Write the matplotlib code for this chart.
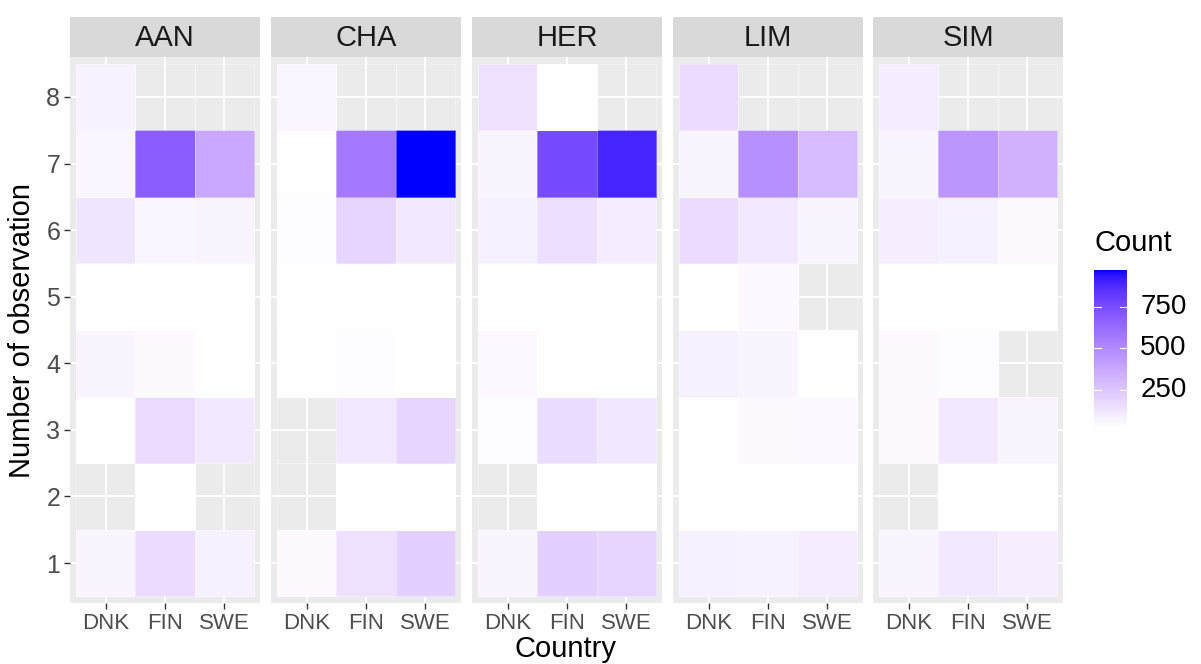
import numpy as np
import matplotlib
matplotlib.use("Agg")
import matplotlib.pyplot as plt
from matplotlib.colors import ListedColormap, Normalize

plt.rcParams['font.family'] = ['Liberation Sans', 'DejaVu Sans']

# data: rows are observation number 1..8, columns DNK, FIN, SWE (None = no tile)
countries = ["DNK", "FIN", "SWE"]
observations = [1, 2, 3, 4, 5, 6, 7, 8]
species = ["AAN", "CHA", "HER", "LIM", "SIM"]

aan = [[63, 167, 82], [None, 21, None], [24, 162, 115], [68, 44, 22],
       [25, 25, 22], [125, 58, 68], [58, 685, 372], [72, None, None]]
cha = [[39, 144, 210], [None, 21, 21], [None, 115, 191], [23, 34, 21],
       [24, 24, 23], [34, 191, 115], [28, 571, 970], [58, None, None]]
her = [[68, 210, 191], [None, 21, 21], [34, 158, 120], [49, 30, 24],
       [24, 24, 24], [82, 153, 91], [68, 761, 895], [144, 20, None]]
lim = [[77, 72, 96], [24, 24, 23], [28, 44, 49], [82, 68, 21],
       [22, 49, None], [162, 115, 63], [63, 476, 296], [162, None, None]]
sim = [[63, 115, 87], [None, 21, 21], [39, 115, 63], [39, 34, None],
       [24, 25, 24], [87, 77, 44], [68, 448, 334], [96, None, None]]
panels = [aan, cha, her, lim, sim]

legend_ticks = [250, 500, 750]


# ggplot-like white -> blue gradient, interpolated in CIELAB
def srgb_to_lab(rgb):
    c = np.asarray(rgb, float)
    lin = np.where(c <= 0.04045, c / 12.92, ((c + 0.055) / 1.055) ** 2.4)
    M = np.array([[0.4124, 0.3576, 0.1805],
                  [0.2126, 0.7152, 0.0722],
                  [0.0193, 0.1192, 0.9505]])
    xyz = M @ lin / np.array([0.95047, 1.0, 1.08883])
    f = np.where(xyz > 0.008856, np.cbrt(xyz), 7.787 * xyz + 16 / 116)
    return np.array([116 * f[1] - 16, 500 * (f[0] - f[1]), 200 * (f[1] - f[2])])


def lab_to_srgb(lab):
    L, a, b = lab
    fy = (L + 16) / 116
    fx = fy + a / 500
    fz = fy - b / 200
    f = np.array([fx, fy, fz])
    xyz = np.where(f ** 3 > 0.008856, f ** 3, (f - 16 / 116) / 7.787)
    xyz = xyz * np.array([0.95047, 1.0, 1.08883])
    Minv = np.array([[3.2406, -1.5372, -0.4986],
                     [-0.9689, 1.8758, 0.0415],
                     [0.0557, -0.2040, 1.0570]])
    lin = np.clip(Minv @ xyz, 0, 1)
    return np.where(lin <= 0.0031308, 12.92 * lin, 1.055 * lin ** (1 / 2.4) - 0.055)


lab_lo = srgb_to_lab([1, 1, 1])
lab_hi = srgb_to_lab([0, 0, 1])
cols = [lab_to_srgb(lab_lo + t * (lab_hi - lab_lo)) for t in np.linspace(0, 1, 256)]
cmap = ListedColormap(np.clip(cols, 0, 1))
cmap.set_bad((0, 0, 0, 0))

allvals = [v for p in panels for row in p for v in row if v is not None]
norm = Normalize(vmin=min(allvals), vmax=max(allvals))

W, H = 1201, 664
fig = plt.figure(figsize=(W / 100, H / 100), dpi=100)


def px_axes(x0, y0, x1, y1):
    return fig.add_axes([x0 / W, 1 - y1 / H, (x1 - x0) / W, (y1 - y0) / H])


panel_left = [70, 271, 472, 673, 873]
pw = 190
top, strip_bottom, bottom = 17, 57, 603

for i, (name, data) in enumerate(zip(species, panels)):
    x0 = panel_left[i]
    ax = px_axes(x0, strip_bottom, x0 + pw, bottom)
    ax.set_facecolor("#EBEBEB")
    arr = np.ma.masked_invalid(np.array(data, dtype=float))
    ax.pcolormesh(np.arange(0.5, 4.0, 1.0), np.arange(0.5, 9.0, 1.0), arr,
                  cmap=cmap, norm=norm, edgecolors=(1, 1, 1, 0.35),
                  linewidth=0.4, zorder=2)
    ax.set_xlim(0.4, 3.6)
    ax.set_ylim(0.4, 8.6)
    ax.set_xticks([1, 2, 3])
    ax.set_xticklabels(countries, fontsize=16, color="#4D4D4D")
    ax.set_yticks(observations)
    ax.grid(True, color="white", linewidth=1.3, zorder=1)
    ax.set_axisbelow(True)
    for s in ax.spines.values():
        s.set_visible(False)
    ax.tick_params(axis="both", length=4, width=1, color="#333333", pad=3)
    if i == 0:
        ax.set_yticklabels([str(o) for o in observations], fontsize=18, color="#4D4D4D")
    else:
        ax.tick_params(axis="y", length=0, labelleft=False)

    st = px_axes(x0, top, x0 + pw, strip_bottom)
    st.set_facecolor("#D9D9D9")
    st.set_xticks([])
    st.set_yticks([])
    for s in st.spines.values():
        s.set_visible(False)
    st.text(0.5, 0.47, name, ha="center", va="center", fontsize=21,
            color="#1A1A1A", transform=st.transAxes)

fig.text(22 / W, 1 - 330 / H, "Number of observation", rotation=90,
         ha="center", va="center", fontsize=21)
fig.text(566 / W, 1 - 649 / H, "Country", ha="center", va="center", fontsize=21)

# colour legend
cax = px_axes(1094, 270, 1127, 428)
grad = np.linspace(norm.vmin, norm.vmax, 300).reshape(-1, 1)
cax.imshow(grad, cmap=cmap, norm=norm, origin="lower", aspect="auto",
           extent=[0, 1, norm.vmin, norm.vmax])
cax.set_xlim(0, 1)
cax.set_ylim(norm.vmin, norm.vmax)
cax.set_xticks([])
cax.set_yticks([])
for s in cax.spines.values():
    s.set_visible(False)
for t in legend_ticks:
    cax.plot([0, 0.2], [t, t], color="white", lw=0.8)
    cax.plot([0.8, 1], [t, t], color="white", lw=0.8)
    cax.text(1.4, t, str(t), ha="left", va="center", fontsize=20,
             transform=cax.get_yaxis_transform())
fig.text(1094 / W, 1 - 243 / H, "Count", ha="left", va="center", fontsize=21)

fig.savefig("out.png", dpi=100)
